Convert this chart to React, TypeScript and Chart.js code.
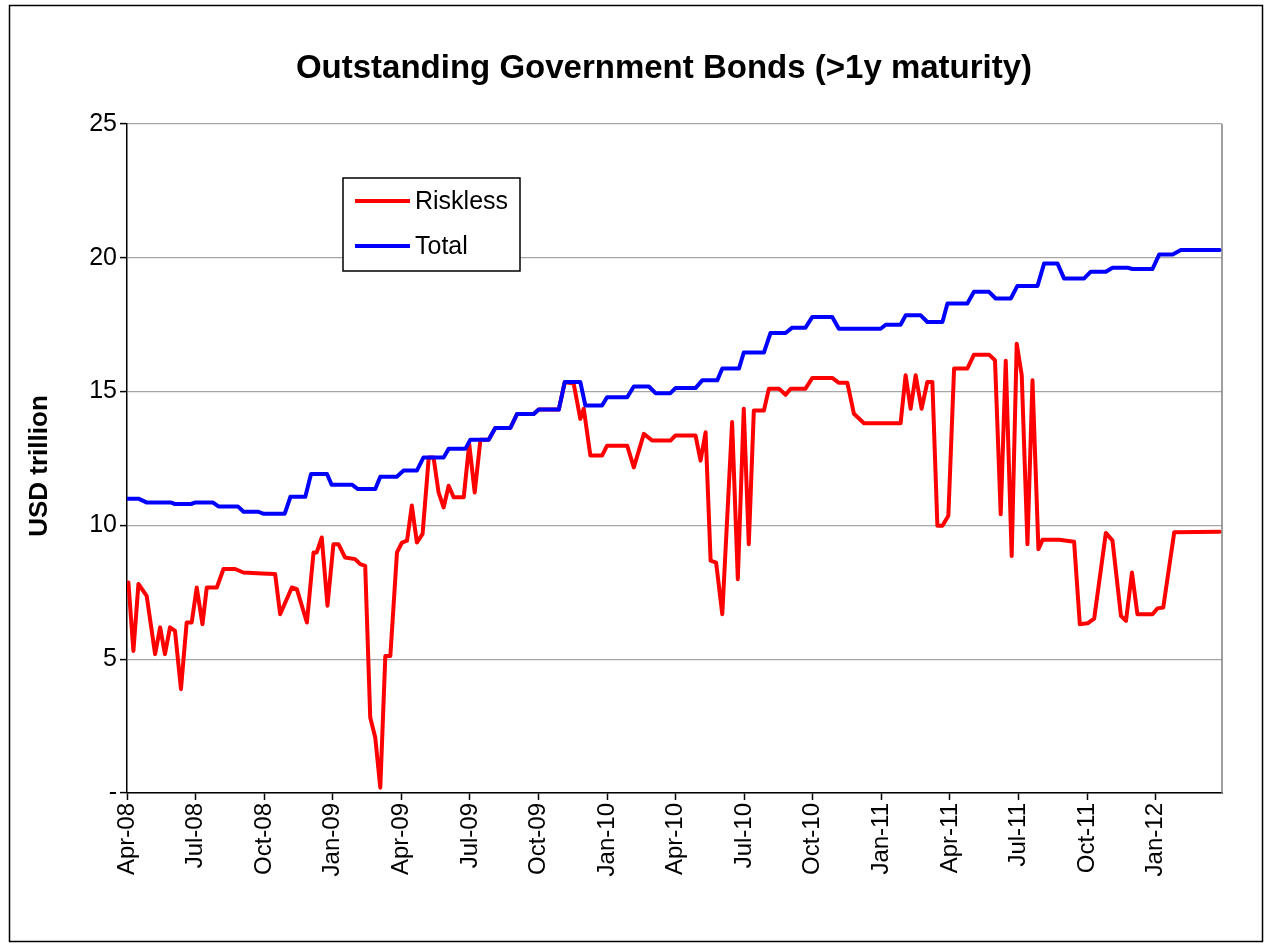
import React, { useEffect, useRef } from 'react';
import { Chart, registerables } from 'chart.js';

Chart.register(...registerables);

const chartTitle = 'Outstanding Government Bonds (>1y maturity)';
const yAxisTitle = 'USD trillion';
const seriesNames = ['Riskless', 'Total'];

// x axis: months since April 2008, one tick label per quarter
const xTickLabels = [
  'Apr-08', 'Jul-08', 'Oct-08', 'Jan-09', 'Apr-09', 'Jul-09', 'Oct-09', 'Jan-10',
  'Apr-10', 'Jul-10', 'Oct-10', 'Jan-11', 'Apr-11', 'Jul-11', 'Oct-11', 'Jan-12',
];
const yTickLabels = ['-', '5', '10', '15', '20', '25'];

const totalMonths = [
  0, 0.5, 0.85, 1.9, 2.1, 2.8, 3.0, 3.75, 4.0, 4.85, 5.1, 5.75, 5.95, 6.9, 7.15, 7.8,
  8.05, 8.75, 8.95, 9.84, 10.1, 10.86, 11.08, 11.8, 12.1, 12.68, 12.97, 13.85, 14.07, 14.8,
  15.02, 15.82, 16.11, 16.77, 17.06, 17.79, 18.01, 18.89, 19.15, 19.83, 20.05, 20.78, 21.0,
  21.88, 22.17, 22.83, 23.12, 23.77, 23.99, 24.87, 25.16, 25.82, 26.04, 26.77, 26.98, 27.86,
  28.15, 28.81, 29.1, 29.68, 29.98, 30.85, 31.14, 32.97, 33.19, 33.84, 34.06, 34.72, 35.01,
  35.67, 35.89, 36.76, 37.05, 37.71, 38.0, 38.66, 38.95, 39.83, 40.12, 40.7, 40.99, 41.87,
  42.16, 42.82, 43.11, 43.77, 43.99, 44.86, 45.15, 45.74, 46.1, 47.8,
];
const totalValues = [
  11.0, 11.0, 10.86, 10.86, 10.8, 10.8, 10.86, 10.86, 10.71, 10.71, 10.51, 10.51, 10.44, 10.44, 11.07, 11.07,
  11.92, 11.92, 11.52, 11.52, 11.36, 11.36, 11.82, 11.82, 12.05, 12.05, 12.54, 12.54, 12.86, 12.86,
  13.2, 13.2, 13.64, 13.64, 14.16, 14.16, 14.33, 14.33, 15.36, 15.36, 14.48, 14.48, 14.79,
  14.79, 15.19, 15.19, 14.94, 14.94, 15.13, 15.13, 15.42, 15.42, 15.86, 15.86, 16.46, 16.46,
  17.19, 17.19, 17.39, 17.39, 17.79, 17.79, 17.35, 17.35, 17.5, 17.5, 17.85, 17.85, 17.6,
  17.6, 18.29, 18.29, 18.73, 18.73, 18.48, 18.48, 18.95, 18.95, 19.79, 19.79, 19.23, 19.23,
  19.48, 19.48, 19.63, 19.63, 19.58, 19.58, 20.12, 20.12, 20.29, 20.29,
];

const risklessMonths = [
  0.06, 0.28, 0.5, 0.86, 1.23, 1.45, 1.66, 1.88, 2.1, 2.36, 2.61, 2.83, 3.05, 3.3, 3.49, 3.93,
  4.22, 4.73, 5.09, 5.9, 6.48, 6.7, 7.21, 7.43, 7.87, 8.16, 8.3, 8.52, 8.77, 9.03, 9.25, 9.54,
  9.98, 10.2, 10.42, 10.64, 10.86, 11.08, 11.3, 11.52, 11.81, 12.03, 12.25, 12.46, 12.68, 12.93,
  13.2, 13.41, 13.63, 13.85, 14.07, 14.29, 14.73, 14.97, 15.21, 15.46, 15.82, 16.11, 16.77,
  17.06, 17.79, 18.01, 18.89, 19.15, 19.54, 19.83, 19.98, 20.27, 20.78, 21.0, 21.88, 22.17,
  22.61, 22.97, 23.77, 23.99, 24.87, 25.09, 25.31, 25.53, 25.77, 26.04, 26.47, 26.72, 26.98,
  27.2, 27.42, 27.86, 28.08, 28.52, 28.81, 29.03, 29.68, 29.98, 30.85, 31.14, 31.51, 31.8,
  32.24, 33.84, 34.06, 34.28, 34.5, 34.76, 35.01, 35.23, 35.45, 35.67, 35.93, 36.18, 36.76,
  37.05, 37.71, 37.97, 38.22, 38.44, 38.7, 38.92, 39.14, 39.39, 39.61, 39.87, 40.05, 40.78,
  41.43, 41.68, 42.02, 42.31, 42.82, 43.11, 43.48, 43.7, 43.96, 44.2, 44.86, 45.08, 45.33,
  45.81, 47.8,
];
const risklessValues = [
  7.87, 5.31, 7.81, 7.37, 5.19, 6.19, 5.19, 6.19, 6.06, 3.88, 6.37, 6.37, 7.68, 6.31, 7.68, 7.68,
  8.37, 8.37, 8.24, 8.2, 8.18, 6.68, 7.68, 7.62, 6.37, 8.99, 8.99, 9.55, 7.0, 9.3, 9.3, 8.8,
  8.74, 8.55, 8.49, 2.82, 2.07, 0.2, 5.12, 5.12, 8.99, 9.36, 9.43, 10.74, 9.36, 9.68,
  12.54, 12.54, 11.23, 10.67, 11.48, 11.05, 11.05, 13.04, 11.23, 13.2, 13.2, 13.64, 13.64,
  14.16, 14.16, 14.33, 14.33, 15.36, 15.3, 13.98, 14.36, 12.61, 12.61, 12.98, 12.98, 12.17,
  13.42, 13.17, 13.17, 13.36, 13.36, 12.42, 13.48, 8.68, 8.61, 6.68, 13.86, 7.99, 14.36,
  9.3, 14.29, 14.29, 15.11, 15.11, 14.88, 15.11, 15.11, 15.51, 15.51, 15.33, 15.33, 14.17,
  13.82, 13.82, 15.61, 14.36, 15.61, 14.36, 15.36, 15.36, 9.99, 9.99, 10.36, 15.86, 15.86,
  16.38, 16.38, 16.17, 10.42, 16.15, 8.86, 16.79, 15.61, 9.3, 15.42, 9.11, 9.46, 9.46,
  9.39, 6.31, 6.34, 6.52, 9.72, 9.43, 6.62, 6.43, 8.24, 6.68, 6.68, 6.9, 6.93,
  9.74, 9.76,
];

const FONT = '"Liberation Sans", Arial, Helvetica, sans-serif';
const RED = '#ff0000';
const BLUE = '#0000ff';

const decor = {
  id: 'decor',
  beforeDraw(chart: any) {
    const ctx = chart.ctx;
    ctx.save();
    ctx.fillStyle = '#ffffff';
    ctx.fillRect(0, 0, chart.width, chart.height);
    ctx.restore();
  },
  afterDraw(chart: any) {
    const ctx = chart.ctx;
    const a = chart.chartArea;
    ctx.save();
    // right border of plot area
    ctx.strokeStyle = '#7f7f7f';
    ctx.lineWidth = 1.5;
    ctx.beginPath();
    ctx.moveTo(a.right, a.top);
    ctx.lineTo(a.right, a.bottom);
    ctx.stroke();

    // outer frame
    ctx.strokeStyle = '#000000';
    ctx.lineWidth = 1.5;
    ctx.strokeRect(9.5, 5.5, 1253, 936);

    // title
    ctx.fillStyle = '#000000';
    ctx.font = `bold 33px ${FONT}`;
    ctx.textAlign = 'center';
    ctx.textBaseline = 'middle';
    ctx.fillText(chartTitle, 664, 69);

    // y axis title
    ctx.save();
    ctx.translate(40, 466);
    ctx.rotate(-Math.PI / 2);
    ctx.font = `bold 26px ${FONT}`;
    ctx.fillText(yAxisTitle, 0, 0);
    ctx.restore();

    // legend
    const lx = a.left + 216;
    const ly = a.top + 54;
    ctx.fillStyle = '#ffffff';
    ctx.fillRect(lx, ly, 177, 93);
    ctx.strokeStyle = '#000000';
    ctx.lineWidth = 1.5;
    ctx.strokeRect(lx, ly, 177, 93);
    const colors = [RED, BLUE];
    const rows = [ly + 23, ly + 68];
    ctx.font = `25px ${FONT}`;
    ctx.textAlign = 'left';
    for (let i = 0; i < 2; i++) {
      ctx.strokeStyle = colors[i];
      ctx.lineWidth = 4;
      ctx.beginPath();
      ctx.moveTo(lx + 12, rows[i]);
      ctx.lineTo(lx + 67, rows[i]);
      ctx.stroke();
      ctx.fillStyle = '#000000';
      ctx.fillText(seriesNames[i], lx + 72, rows[i] + 1);
    }
    ctx.restore();
  },
};

export default function App() {
  const ref = useRef<HTMLCanvasElement | null>(null);
  useEffect(() => {
    if (!ref.current) return;
    const chart = new Chart(ref.current, {
      type: 'line',
      data: {
        datasets: [
          {
            label: seriesNames[0],
            data: risklessMonths.map((m, i) => ({ x: m, y: risklessValues[i] })),
            borderColor: RED,
            backgroundColor: RED,
            borderWidth: 4,
            pointRadius: 0,
            tension: 0,
            borderJoinStyle: 'round',
            borderCapStyle: 'round',
            order: 1,
          },
          {
            label: seriesNames[1],
            data: totalMonths.map((m, i) => ({ x: m, y: totalValues[i] })),
            borderColor: BLUE,
            backgroundColor: BLUE,
            borderWidth: 4,
            pointRadius: 0,
            tension: 0,
            borderJoinStyle: 'round',
            borderCapStyle: 'round',
            order: 0,
          },
        ],
      },
      options: {
        animation: false,
        responsive: false,
        maintainAspectRatio: false,
        events: [],
        layout: { padding: { left: 10, top: 124, right: 48, bottom: 41 } },
        plugins: {
          legend: { display: false },
          title: { display: false },
          tooltip: { enabled: false },
        },
        scales: {
          x: {
            type: 'linear',
            min: 0,
            max: 47.9,
            afterFit: (s: any) => { s.height = 110; },
            ticks: {
              stepSize: 3,
              includeBounds: false,
              autoSkip: false,
              minRotation: 90,
              maxRotation: 90,
              padding: 3,
              color: '#000000',
              font: { family: FONT, size: 24 },
              callback: (v: any) => xTickLabels[Math.round(Number(v) / 3)] ?? '',
            },
            grid: { drawOnChartArea: false, drawTicks: true, tickLength: 7, tickColor: '#000000', tickWidth: 1.5 },
            border: { display: true, color: '#000000', width: 1.5 },
          },
          y: {
            type: 'linear',
            min: 0,
            max: 25,
            afterFit: (s: any) => { s.width = 117; },
            ticks: {
              stepSize: 5,
              padding: 3,
              color: '#000000',
              font: { family: FONT, size: 25 },
              callback: (v: any) => yTickLabels[Math.round(Number(v) / 5)] ?? '',
            },
            grid: { color: '#a6a6a6', lineWidth: 1.2, drawTicks: true, tickLength: 7, tickColor: '#000000', tickWidth: 1.5 },
            border: { display: true, color: '#000000', width: 1.5 },
          },
        },
      },
      plugins: [decor],
    });
    return () => chart.destroy();
  }, []);
  return (
    <div style={{ position: 'absolute', left: 0, top: 0, width: 1270, height: 944, background: '#fff' }}>
      <canvas ref={ref} width={1270} height={944} style={{ display: 'block', width: 1270, height: 944 }} />
    </div>
  );
}
